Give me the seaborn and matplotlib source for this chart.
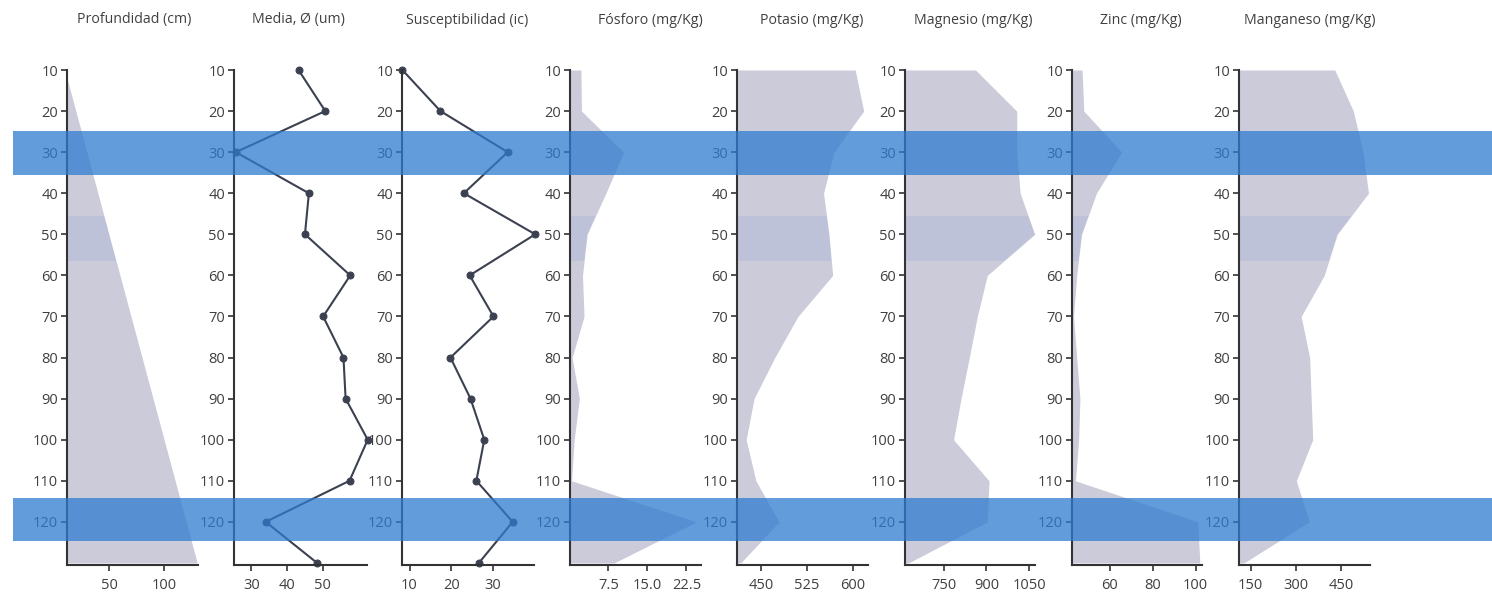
"""
Stratigraphic profile panels (depth vs. soil properties)
"""

import matplotlib.pyplot as plt
import matplotlib.transforms as mtransforms
from matplotlib.patches import Rectangle
import seaborn as sns

# depth of each sample (cm)
depth = [10, 20, 30, 40, 50, 60, 70, 80, 90, 100, 110, 120, 130]

profundidad = [10, 20, 30, 40, 50, 60, 70, 80, 90, 100, 110, 120, 130]
media = [43.2, 50.7, 25.6, 46.1, 45.0, 57.7, 50.1, 55.8, 56.4, 62.6, 57.5, 34.0, 48.4]
susceptibilidad = [8.3, 17.4, 33.5, 23.0, 40.1, 24.4, 30.1, 19.8, 24.6, 27.9, 26.0, 34.7, 26.6]
fosforo = [2.2, 2.3, 10.4, 7.0, 3.4, 2.5, 2.8, 0.5, 1.9, 0.9, 0.4, 24.4, 8.6]
potasio = [604, 618, 569, 552, 561, 567, 510, 472, 438, 425, 441, 479, 416]
magnesio = [862, 1006, 1006, 1018, 1069, 903, 868, 840, 811, 785, 909, 903, 627]
zinc = [47.0, 47.8, 65.5, 53.7, 46.8, 44.5, 43.0, 44.5, 46.0, 45.4, 43.9, 101, 102]
manganeso = [428, 489, 521, 539, 436, 393, 317, 345, 350, 355, 301, 344, 128]

titles = ["Profundidad (cm)", "Media, Ø (um)", "Susceptibilidad (ic)", "Fósforo (mg/Kg)",
          "Potasio (mg/Kg)", "Magnesio (mg/Kg)", "Zinc (mg/Kg)", "Manganeso (mg/Kg)"]
series = [profundidad, media, susceptibilidad, fosforo, potasio, magnesio, zinc, manganeso]
kinds = ["fill", "line", "line", "fill", "fill", "fill", "fill", "fill"]

x_limits = [(12, 130.7), (25.1, 62.4), (8.2, 39.8), (0.1, 25.3),
            (410, 625), (615, 1070), (42.3, 103), (112, 544)]
x_ticks = [[50, 100], [30, 40, 50], [10, 20, 30], [7.5, 15, 22.5],
           [450, 525, 600], [750, 900, 1050], [60, 80, 100], [150, 300, 450]]
x_ticklabels = [["50", "100"], ["30", "40", "50"], ["10", "20", "30"], ["7.5", "15.0", "22.5"],
                ["450", "525", "600"], ["750", "900", "1050"], ["60", "80", "100"],
                ["150", "300", "450"]]
y_ticks = [10, 20, 30, 40, 50, 60, 70, 80, 90, 100, 110, 120]

# highlighted depth intervals
bands = [(24.8, 35.5), (114.2, 124.7)]
soft_band = (45.5, 56.5)

# layout in pixels (figure is 1492 x 605)
W, H = 1492, 605
panel_px = [(67, 198), (234, 367), (402, 534), (570, 701),
            (737, 868), (905, 1035), (1072, 1202), (1239, 1370)]
title_px = [134, 298, 467, 650, 812, 973, 1141, 1310]
top_px, bottom_px = 70, 565

sns.set_style("ticks")
plt.rcParams["font.family"] = ["Open Sans", "DejaVu Sans"]

ink = "#333333"
text_color = "#404040"
fill_color = "#cbcbda"
line_color = "#3b4150"

fig = plt.figure(figsize=(W / 100, H / 100), dpi=100)

axes = []
for i, (x0, x1) in enumerate(panel_px):
    ax = fig.add_axes([x0 / W, 1 - bottom_px / H, (x1 - x0) / W, (bottom_px - top_px) / H])
    vals = series[i]

    if kinds[i] == "fill":
        poly = ax.fill_betweenx(depth, x_limits[i][0], vals, color=fill_color, lw=0)
        span = ax.axhspan(*soft_band, color="#8d9fd6", alpha=0.2, lw=0)
        span.set_clip_path(poly.get_paths()[0], poly.get_transform())
    else:
        sns.lineplot(x=vals, y=depth, orient="y", ax=ax, color=line_color, lw=1.5,
                     marker="o", markersize=5, markeredgecolor=line_color, clip_on=False)

    ax.set_xlim(*x_limits[i])
    ax.set_ylim(130.5, 10)
    ax.set_xticks(x_ticks[i])
    ax.set_xticklabels(x_ticklabels[i])
    ax.set_yticks(y_ticks)
    ax.set_xlabel("")
    ax.set_ylabel("")
    ax.set_facecolor("none")

    sns.despine(ax=ax)
    for side in ["left", "bottom"]:
        ax.spines[side].set_color(ink)
        ax.spines[side].set_linewidth(1.5)
    ax.tick_params(axis="both", length=4.5, width=1.2, color=ink,
                   labelsize=10.5, labelcolor=text_color, pad=2)
    ax.tick_params(axis="x", pad=5)

    fig.text(title_px[i] / W, 1 - 20 / H, titles[i], ha="center", va="center",
             fontsize=10.2, color=text_color)
    axes.append(ax)

# blue bands across the whole figure
trans = mtransforms.blended_transform_factory(fig.transFigure, axes[0].transData)
for d0, d1 in bands:
    fig.add_artist(Rectangle((13 / W, d0), 1 - 13 / W, d1 - d0, transform=trans,
                             facecolor="#2f7bd0", alpha=0.75, lw=0, zorder=10))

plt.savefig("out.png", dpi=100)
